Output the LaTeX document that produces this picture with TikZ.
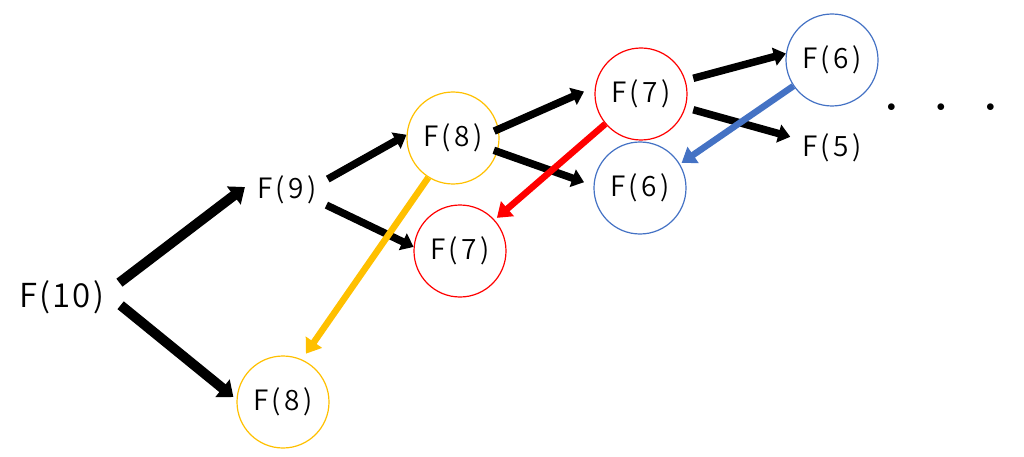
\documentclass[tikz,border=0pt]{standalone}
\usepackage{fontspec}
\IfFontExistsTF{Noto Sans CJK JP DemiLight}
    {\newfontfamily\fibfont{Noto Sans CJK JP DemiLight}[LetterSpace=12]
     \newfontfamily\rootfont{Noto Sans CJK JP DemiLight}[LetterSpace=6]}
    {\newfontfamily\fibfont{Noto Sans CJK JP}[LetterSpace=12]
     \newfontfamily\rootfont{Noto Sans CJK JP}[LetterSpace=6]}
\usetikzlibrary{arrows.meta}

\definecolor{memoyellow}{HTML}{FFC000}
\definecolor{memored}{HTML}{FF0000}
\definecolor{memoblue}{HTML}{4472C4}

\begin{document}
\begin{tikzpicture}[
            x = 1pt, y = -1pt, % pixel like coordinates
            > = {Triangle[length=12pt, width=18pt]}, % arrow head style
            auto
        ]

        \tikzstyle{every node}=[
            circle,
            inner sep = 0pt,
            minimum size = 92pt,
            font = \fibfont\fontsize{28}{28}\selectfont
        ]
        \tikzstyle{gold}=[draw = memoyellow, line width = 1.2pt]
        \tikzstyle{rose}=[draw = memored, line width = 1.2pt]
        \tikzstyle{sky}=[draw = memoblue, line width = 1.2pt]
        \tikzstyle{call}=[->, line width = 7.5pt]
        \tikzstyle{bigcall}=[->, line width = 10pt,
            > = {Triangle[length=14pt, width=22pt]}]
        \tikzstyle{memo}=[->, line width = 6.5pt,
            > = {Triangle[length=14pt, width=19pt]}]

        \useasboundingbox (0,0) rectangle (1024,457);

	\node[minimum size=118pt, font=\rootfont\fontsize{33}{33}\selectfont] (10) at (62,297) {F(10)};
	\node[minimum size=84pt] (9) at (287,190) {F(9)};
	\node[gold] (8) at (453,138) {F(8)};
	\node[gold] (88) at (283,402) {F(8)};
	\node[rose] (7) at (641,94) {F(7)};
	\node[rose] (77) at (460,251) {F(7)};
	\node[sky] (6) at (832,60) {F(6)};
	\node[sky] (66) at (640,188) {F(6)};
	\node[minimum size=86pt] (5) at (832,148) {F(5)};
	\node[minimum size=10pt, font=\fontsize{17}{17}\selectfont] (dots) at (941,108)
	    {$\bullet\hspace{37pt}\bullet\hspace{37pt}\bullet$};

	\draw[bigcall] (10.14) -- (9.176);
	\draw[bigcall, shorten >= 4pt] (10.-8) -- (88.177);

	\draw[call] (9.15) -- (8.176);
	\draw[call] (9.-21) -- (77.175);
	\draw[call, shorten <= -5pt, shorten >= 12pt] (8.11) -- (7.171);
	\draw[call, shorten <= -4pt, shorten >= 10pt] (8.-17) -- (66.177);
	\draw[call, shorten <= 8pt] (7.17) -- (6.172);
	\draw[call, shorten <= 8pt] (7.-17) -- (5.165);

	\draw[memo, memoyellow, shorten >= 7pt] (8.-122) -- (88.66);
	\draw[memo, memored, shorten >= 3pt] (7.-140) -- (77.42);
	\draw[memo, memoblue, shorten >= 2pt] (6.-146) -- (66.31);

    \end{tikzpicture}
\end{document}
